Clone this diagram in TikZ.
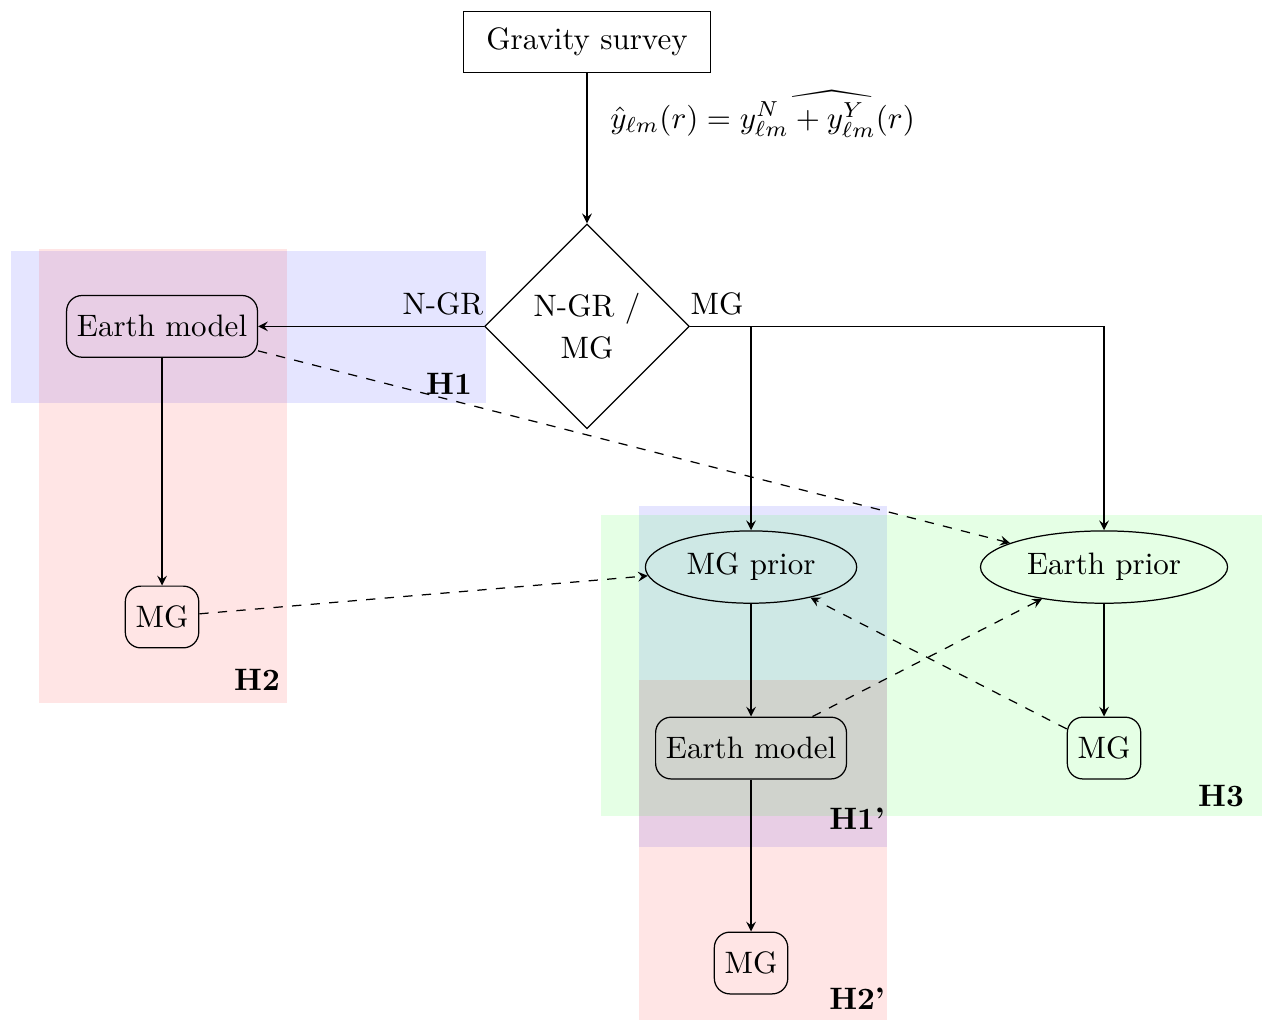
\documentclass[tikz,border=0pt]{standalone}
\usepackage{amsmath}
\usepackage{yhmath}
\usepackage{tikz}
\usetikzlibrary{shapes.geometric}
\usetikzlibrary{arrows.meta}
\tikzset{>=stealth}
\tikzset{
    survey/.style={draw, rectangle, minimum width=2.8cm, minimum height=0.7cm},
    decision/.style={draw, diamond, aspect=1, align=center, inner sep=2.6pt},
    model/.style={draw, rectangle, rounded corners=5pt, minimum height=0.7cm},
    prior/.style={draw, ellipse, minimum height=0.82cm},
    hyp/.style={font=\bfseries},
}

\begin{document}
\begin{tikzpicture}
    \useasboundingbox (0,0) rectangle (14.308,-11.565);
    % hypotheses in the background
    \fill[blue, fill opacity=0.1] (0.125,-2.846) rectangle (5.510,-4.569);
    \fill[red, fill opacity=0.1] (0.442,-2.823) rectangle (3.254,-7.971);
    \fill[blue, fill opacity=0.1] (7.245,-5.737) rectangle (10.057,-9.603);
    \fill[red, fill opacity=0.1] (7.245,-7.710) rectangle (10.057,-11.565);
    \fill[green, fill opacity=0.1] (6.814,-5.839) rectangle (14.308,-9.252);
    \node[hyp] (h1) at (5.091,-4.354) {H1};
    \node[hyp] (h2) at (2.914,-7.710) {H2};
    \node[hyp] (h1b) at (9.717,-9.286) {H1'};
    \node[hyp] (h2b) at (9.717,-11.327) {H2'};
    \node[hyp] (h3) at (13.844,-9.025) {H3};

    \node[survey] (grav) at (6.655,-0.476) {Gravity survey};
    \node[decision] (dec) at (6.655,-3.70) {N-GR /\\[1.6pt] MG};
    \node[model] (earthA) at (1.837,-3.70) {Earth model};
    \node[model] (mgA) at (1.837,-6.995) {MG};
    \node[prior] (mgprior) at (8.515,-6.429) {MG prior};
    \node[prior] (eprior) at (12.517,-6.429) {Earth prior};
    \node[model] (earthB) at (8.515,-8.481) {Earth model};
    \node[model] (mgB) at (12.517,-8.481) {MG};
    \node[model] (mgC) at (8.515,-10.918) {MG};

    \draw[->] (grav) -- node[pos=0.27, right=4pt] {$\hat{y}_{\ell m}(r) = y^N_{\ell m} \widehat{\:+\:y^Y_{\ell m}}(r)$} (dec);
    \draw[->] (dec.west) node[anchor=south east, inner xsep=0pt] {N-GR} -- (earthA);
    \draw[->] (dec.east) node[anchor=south west, inner xsep=0pt] {MG} -| (eprior);
    \draw[->] (dec.east) -| (mgprior);
    \draw[->] (earthA) -- (mgA);
    \draw[->] (mgprior) -- (earthB);
    \draw[->] (earthB) -- (mgC);
    \draw[->] (eprior) -- (mgB);
%    cross links between the hypotheses
    \draw[->, dashed] (earthA) -- (eprior);
    \draw[->, dashed] (mgA) -- (mgprior);
    \draw[->, dashed] (mgB) -- (mgprior);
    \draw[->, dashed] (earthB) -- (eprior);
\end{tikzpicture}
\end{document}
